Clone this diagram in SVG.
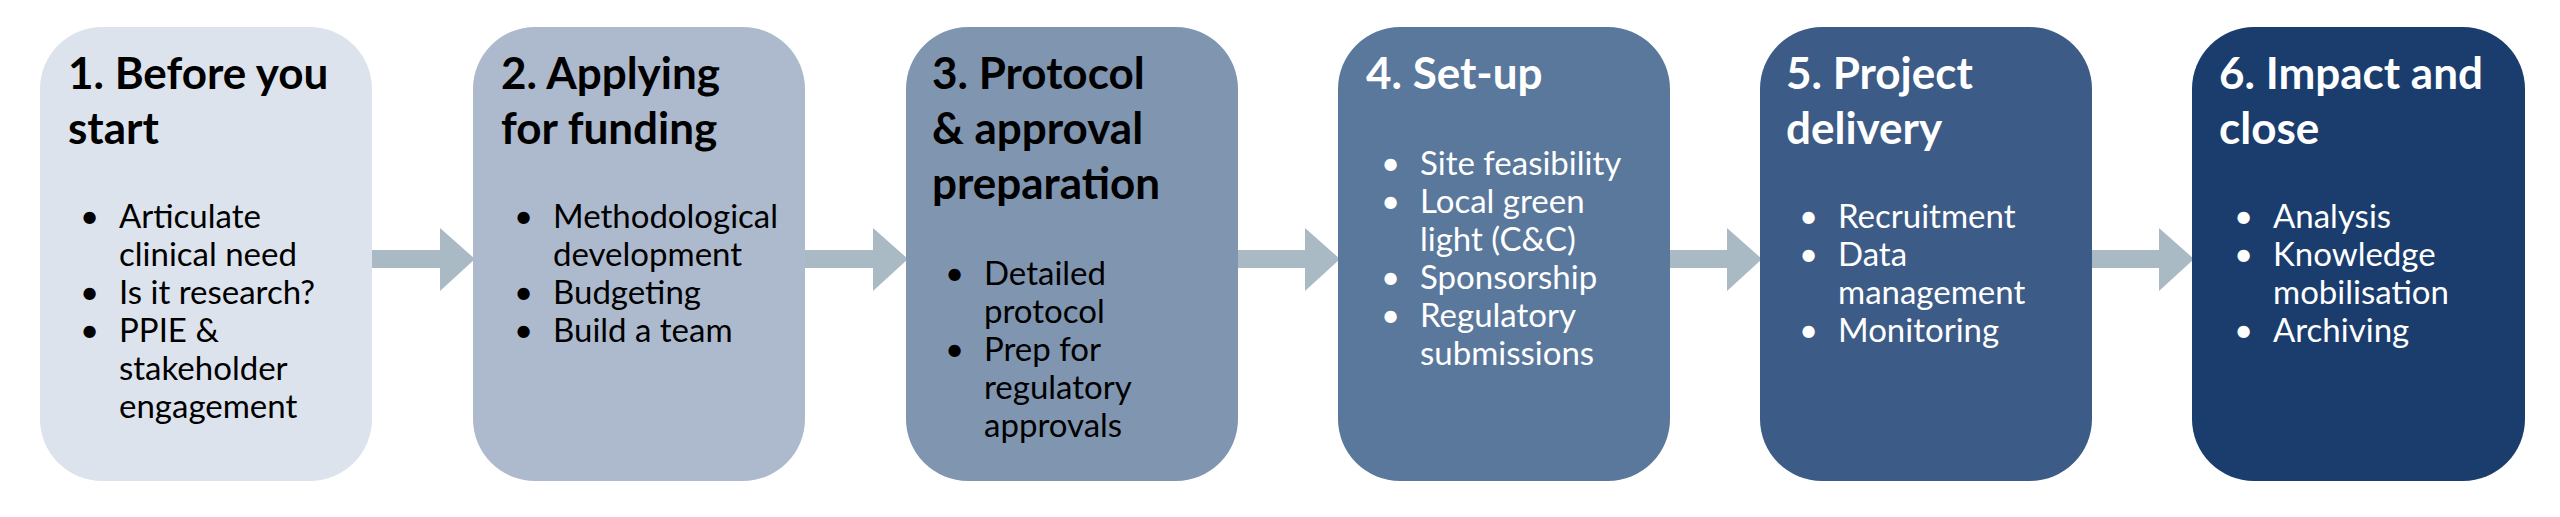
<svg xmlns="http://www.w3.org/2000/svg" width="2560" height="517" viewBox="0 0 2560 517">
<style>
.t{font-family:Lato,"Open Sans",sans-serif;font-weight:bold;font-size:44px}
.b{font-family:Lato,"Open Sans",sans-serif;font-size:33px}
.d{fill:#000}.l{fill:#fff}
.ar{fill:#a9bac4}
</style>
<rect width="2560" height="517" fill="#fff"/>
<g id="connectors">
<polygon class="ar" points="370,250 440,250 440,228 475,259 440,291 440,268 370,268"/>
<polygon class="ar" points="803,250 873,250 873,228 908,259 873,291 873,268 803,268"/>
<polygon class="ar" points="1236,250 1305,250 1305,228 1340,259 1305,291 1305,268 1236,268"/>
<polygon class="ar" points="1668,250 1727,250 1727,228 1762,259 1727,291 1727,268 1668,268"/>
<polygon class="ar" points="2090,250 2159,250 2159,228 2194,259 2159,291 2159,268 2090,268"/>
</g>
<g id="n1" class="d">
<rect x="40" y="27" width="332" height="454" rx="62" fill="#dce3ec"/>
<text class="t" x="68" y="89">1. Before you</text><text class="t" x="68" y="144">start</text>
<g class="b"><text x="119" y="228">Articulate</text><text x="119" y="266">clinical need</text><text x="119" y="304">Is it research?</text><text x="119" y="342">PPIE &amp;</text><text x="119" y="380">stakeholder</text><text x="119" y="418">engagement</text>
<text x="80" y="228">•</text><text x="80" y="304">•</text><text x="80" y="342">•</text></g>
</g>
<g id="n2" class="d">
<rect x="473" y="27" width="332" height="454" rx="62" fill="#adbacd"/>
<text class="t" x="501" y="89">2. Applying</text><text class="t" x="501" y="144">for funding</text>
<g class="b"><text x="553" y="228">Methodological</text><text x="553" y="266">development</text><text x="553" y="304">Budgeting</text><text x="553" y="342">Build a team</text>
<text x="514" y="228">•</text><text x="514" y="304">•</text><text x="514" y="342">•</text></g>
</g>
<g id="n3" class="d">
<rect x="906" y="27" width="332" height="454" rx="62" fill="#7f95b0"/>
<text class="t" x="932" y="89">3. Protocol</text><text class="t" x="932" y="144">&amp; approval</text><text class="t" x="932" y="199">preparation</text>
<g class="b"><text x="984" y="285">Detailed</text><text x="984" y="323">protocol</text><text x="984" y="361">Prep for</text><text x="984" y="399">regulatory</text><text x="984" y="437">approvals</text>
<text x="945" y="285">•</text><text x="945" y="361">•</text></g>
</g>
<g id="n4" class="l">
<rect x="1338" y="27" width="332" height="454" rx="62" fill="#5a789b"/>
<text class="t" x="1366" y="89">4. Set-up</text>
<g class="b"><text x="1420" y="175">Site feasibility</text><text x="1420" y="213">Local green</text><text x="1420" y="251">light (C&amp;C)</text><text x="1420" y="289">Sponsorship</text><text x="1420" y="327">Regulatory</text><text x="1420" y="365">submissions</text>
<text x="1381" y="175">•</text><text x="1381" y="213">•</text><text x="1381" y="289">•</text><text x="1381" y="327">•</text></g>
</g>
<g id="n5" class="l">
<rect x="1760" y="27" width="332" height="454" rx="62" fill="#3c5b86"/>
<text class="t" x="1786" y="89">5. Project</text><text class="t" x="1786" y="144">delivery</text>
<g class="b"><text x="1838" y="228">Recruitment</text><text x="1838" y="266">Data</text><text x="1838" y="304">management</text><text x="1838" y="342">Monitoring</text>
<text x="1799" y="228">•</text><text x="1799" y="266">•</text><text x="1799" y="342">•</text></g>
</g>
<g id="n6" class="l">
<rect x="2192" y="27" width="333" height="454" rx="62" fill="#1a3d6e"/>
<text class="t" x="2219" y="89">6. Impact and</text><text class="t" x="2219" y="144">close</text>
<g class="b"><text x="2273" y="228">Analysis</text><text x="2273" y="266">Knowledge</text><text x="2273" y="304">mobilisation</text><text x="2273" y="342">Archiving</text>
<text x="2234" y="228">•</text><text x="2234" y="266">•</text><text x="2234" y="342">•</text></g>
</g>
</svg>
